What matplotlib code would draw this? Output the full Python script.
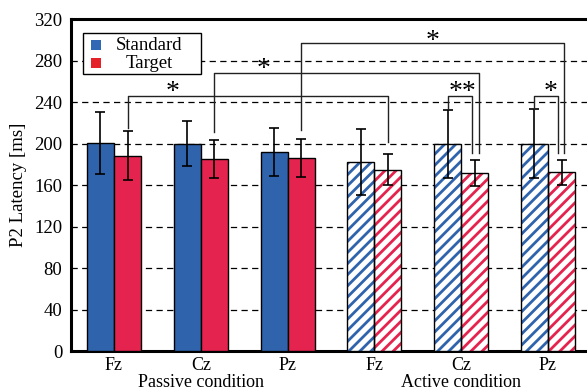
import matplotlib
matplotlib.use('Agg')
import matplotlib.pyplot as plt
from matplotlib.patches import Rectangle
import numpy as np

plt.rcParams['font.family'] = ['Liberation Serif', 'DejaVu Serif']
plt.rcParams['hatch.linewidth'] = 2.0

# electrode sites, passive then active
sites = ['Fz', 'Cz', 'Pz', 'Fz', 'Cz', 'Pz']
conditions = ['Passive condition', 'Active condition']
series = ['Standard', 'Target']
standard_mean = [201, 200, 192, 182.5, 199.5, 200]
standard_err = [30, 22, 23, 32, 33, 33]
target_mean = [188.5, 185, 186, 175, 171.5, 172.5]
target_err = [24, 18.5, 18.5, 15, 12.5, 12]

# significance brackets: x left, leg bottom left, x right, leg bottom right, top, label, label x, label y
brackets = [
    (0.156, 215, 3.156, 202, 246, '*', 0.67, 249),
    (1.156, 211, 4.205, 191, 268, '*', 1.72, 272),
    (2.160, 213.5, 5.185, 191, 297, '*', 3.675, 299),
    (3.844, 233, 4.120, 191, 246, '**', 4.02, 249),
    (4.844, 233, 5.115, 191, 246, '*', 5.03, 249),
]

blue = '#2F64AD'
red = '#E5234F'
legend_colors = ['#3068B5', '#E52229']
w = 0.312
fs = 13.5

fig = plt.figure(figsize=(5.87, 3.92), dpi=100)
ax = fig.add_axes([70.6 / 587, 41 / 392, 520.8 / 587, 331.7 / 392])

x = np.arange(len(sites))
passive = x < 3
active = ~passive

err_kw = dict(fmt='none', ecolor='black', elinewidth=1.2, capsize=3.4, capthick=1.2, zorder=4)

# passive: solid bars
ax.bar(x[passive] - w / 2, np.array(standard_mean)[passive], w, color=blue, edgecolor='black', linewidth=1.0, zorder=3)
ax.bar(x[passive] + w / 2, np.array(target_mean)[passive], w, color=red, edgecolor='black', linewidth=1.0, zorder=3)

# active: hatched bars (hatch drawn in colour, then black outline on top)
ax.bar(x[active] - w / 2, np.array(standard_mean)[active], w, color='white', edgecolor=blue, hatch='///', linewidth=0, zorder=3)
ax.bar(x[active] + w / 2, np.array(target_mean)[active], w, color='white', edgecolor=red, hatch='///', linewidth=0, zorder=3)
ax.bar(x[active] - w / 2, np.array(standard_mean)[active], w, fill=False, edgecolor='black', linewidth=1.0, zorder=3)
ax.bar(x[active] + w / 2, np.array(target_mean)[active], w, fill=False, edgecolor='black', linewidth=1.0, zorder=3)

ax.errorbar(x - w / 2, standard_mean, yerr=standard_err, **err_kw)
ax.errorbar(x + w / 2, target_mean, yerr=target_err, **err_kw)

for xl, yl, xr, yr, top, lab, lx, ly in brackets:
    ax.plot([xl, xl, xr, xr], [yl, top, top, yr], color='#222222', linewidth=1.0, zorder=5)
    ax.text(lx, ly, lab, ha='center', va='center', fontsize=20, zorder=6)

ax.set_xlim(-0.5, 5.5)
ax.set_ylim(0, 320)
ax.set_yticks(np.arange(0, 321, 40))
ax.set_xticks(x)
ax.set_xticklabels(sites)
ax.tick_params(length=0, labelsize=fs, pad=6)
ax.tick_params(axis='x', labelsize=13, pad=4)
ax.yaxis.grid(True, linestyle=(0, (5, 3.5)), color='black', linewidth=0.9, zorder=0)
ax.set_axisbelow(True)
for s in ax.spines.values():
    s.set_linewidth(2.2)
ax.set_ylabel('P2 Latency [ms]', fontsize=fs, labelpad=5)

# legend box drawn by hand so the labels can be centred
ax.add_patch(Rectangle((0.0238, 0.835), 0.2266, 0.1237, transform=ax.transAxes, facecolor='white',
                       edgecolor='black', linewidth=1.0, zorder=7))
for i, (name, c) in enumerate(zip(series, legend_colors)):
    yc = 0.922 - i * 0.054
    ax.add_patch(Rectangle((0.0392, yc - 0.015), 0.0192, 0.030, transform=ax.transAxes,
                           facecolor=c, edgecolor='none', zorder=8))
    ax.text(0.1505, yc, name, transform=ax.transAxes, ha='center', va='center', fontsize=fs, zorder=8)

# condition labels sit just under the electrode labels
fig.canvas.draw()
renderer = fig.canvas.get_renderer()
tick_bottom = min(t.get_window_extent(renderer).y0 for t in ax.get_xticklabels())
y_frac = ax.transAxes.inverted().transform((0, tick_bottom - 0.5))[1]
for i, cond in enumerate(conditions):
    ax.text(1 + 3 * i, y_frac, cond, transform=ax.get_xaxis_transform(), ha='center', va='top', fontsize=13)

fig.savefig('out.png', dpi=100)
